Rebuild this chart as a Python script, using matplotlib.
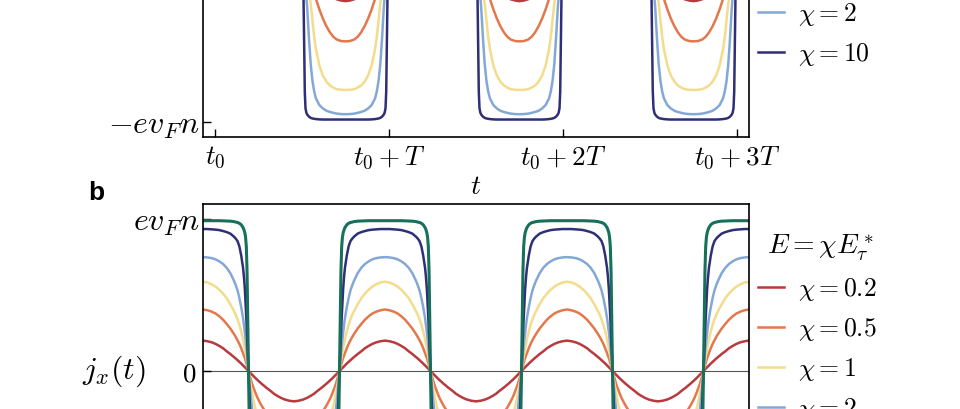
import matplotlib
matplotlib.use('Agg')
import matplotlib.pyplot as plt
import numpy as np

plt.rcParams['mathtext.fontset'] = 'cm'
plt.rcParams['font.family'] = ['DejaVu Sans']

# curve labels and colours (weak field -> strong field)
chi_labels = [r'$\chi = 0.2$', r'$\chi = 0.5$', r'$\chi = 1$', r'$\chi = 2$',
              r'$\chi = 10$', r'$\chi = 100$']
colors = ['#b83a3e', '#e3784c', '#f3dc8c', '#84a8d6', '#2f2f78', '#17705a']

# phase inside one half period (units of T), from zero crossing to the middle
phase = np.array([0, .004, .008, .012, .016, .02, .025, .03, .04, .05, .06,
                  .07, .08, .1, .12, .14, .16, .18, .2, .225, .25])

# panel a: values in a negative half period (units of e v_F n)
red_a = [0, -0.005, -0.01, -0.015, -0.02, -0.025, -0.031, -0.037, -0.049, -0.061,
         -0.073, -0.084, -0.095, -0.116, -0.135, -0.155, -0.17, -0.183, -0.193, -0.201, -0.205]
orange_a = [0, -0.008, -0.016, -0.024, -0.032, -0.04, -0.05, -0.06, -0.08, -0.1,
            -0.125, -0.155, -0.19, -0.26, -0.32, -0.37, -0.41, -0.44, -0.458, -0.468, -0.47]
yellow_a = [0, -0.015, -0.03, -0.045, -0.06, -0.075, -0.095, -0.115, -0.16, -0.22,
            -0.33, -0.44, -0.52, -0.63, -0.695, -0.735, -0.76, -0.775, -0.785, -0.789, -0.79]
blue_a = [0, -0.02, -0.045, -0.07, -0.1, -0.13, -0.18, -0.25, -0.45, -0.62,
          -0.73, -0.8, -0.845, -0.89, -0.912, -0.927, -0.935, -0.941, -0.946, -0.949, -0.95]
navy_a = [0, -0.03, -0.12, -0.45, -0.8, -0.91, -0.94, -0.952, -0.966, -0.974,
          -0.978, -0.98, -0.982, -0.984, -0.985, -0.985, -0.985, -0.985, -0.985, -0.985, -0.985]

# panel b: values in a positive half period
red_b = [0, 0.005, 0.01, 0.015, 0.02, 0.025, 0.031, 0.037, 0.049, 0.06, 0.071,
         0.082, 0.092, 0.112, 0.13, 0.15, 0.165, 0.178, 0.188, 0.196, 0.2]
orange_b = [0, 0.018, 0.036, 0.053, 0.07, 0.085, 0.102, 0.118, 0.15, 0.178, 0.202,
            0.224, 0.244, 0.28, 0.31, 0.338, 0.36, 0.378, 0.39, 0.4, 0.405]
yellow_b = [0, 0.032, 0.064, 0.095, 0.124, 0.15, 0.18, 0.21, 0.26, 0.305, 0.34,
            0.37, 0.395, 0.44, 0.48, 0.51, 0.535, 0.555, 0.57, 0.583, 0.588]
blue_b = [0, 0.055, 0.11, 0.165, 0.21, 0.255, 0.305, 0.35, 0.42, 0.48, 0.53,
          0.565, 0.595, 0.645, 0.68, 0.705, 0.722, 0.735, 0.743, 0.748, 0.75]
navy_b = [0, 0.12, 0.24, 0.35, 0.45, 0.54, 0.62, 0.68, 0.76, 0.82, 0.855,
          0.872, 0.885, 0.905, 0.915, 0.922, 0.928, 0.931, 0.933, 0.935, 0.935]
green_b = [0, 0.32, 0.66, 0.82, 0.88, 0.91, 0.93, 0.945, 0.963, 0.973, 0.978,
           0.981, 0.984, 0.987, 0.988, 0.989, 0.99, 0.99, 0.99, 0.99, 0.99]

curves_a = [red_a, orange_a, yellow_a, blue_a, navy_a]
curves_b = [red_b, orange_b, yellow_b, blue_b, navy_b, green_b]

xtick_pos = [0, 1, 2, 3]
xtick_labels = [r'$t_0$', r'$t_0 + T$', r'$t_0 + 2T$', r'$t_0 + 3T$']
ytick_pos = [-1, 0, 1]
ytick_labels = [r'$-ev_Fn$', r'$0$', r'$ev_Fn$']

FS_X = 19.5     # time tick labels
FS_Y = 23       # current tick labels / axis label
FS_LEG = 18.5
W, H = 960, 409


def periodic(half, start, n_halves, first_sign):
    # mirror the quarter period, then repeat with alternating sign
    half = np.asarray(half)
    d = np.concatenate([phase, 0.5 - phase[::-1][1:]])
    v = np.concatenate([half, half[::-1][1:]])
    ts, vs = [], []
    for k in range(n_halves):
        ts.append(start + 0.5 * k + d)
        vs.append(first_sign * (-1) ** k * v)
    return np.concatenate(ts), np.concatenate(vs)


def style(ax):
    ax.set_ylim(-1.1, 1.1)
    ax.tick_params(direction='in', length=6, width=1.0)
    ax.tick_params(axis='x', pad=5, labelsize=FS_X)
    ax.tick_params(axis='y', pad=2, labelsize=FS_Y)
    for s in ax.spines.values():
        s.set_linewidth(1.2)
    ax.set_xticks(xtick_pos)
    ax.set_xticklabels(xtick_labels)
    ax.set_yticks(ytick_pos)
    ax.set_yticklabels(ytick_labels)
    # the plain zero is set smaller than the e v_F n labels
    zero = ax.get_yticklabels()[1]
    zero.set_fontsize(FS_X)
    ax.yaxis.get_major_ticks()[1].set_pad(5)


def add_legend(ax, y):
    ax.legend(loc='upper left', bbox_to_anchor=(1.0165, y), frameon=False,
              fontsize=FS_LEG, title=r'$E = \chi E^*_\tau$', title_fontsize=20,
              handlelength=1.0, handletextpad=0.55, labelspacing=0.5,
              borderpad=0, borderaxespad=0)


fig = plt.figure(figsize=(W / 100, H / 100), dpi=100)

# panel a (top is cut off in the reference)
ax_a = fig.add_axes([203 / W, (H - 137) / H, 546 / W, 334 / H])
for vals, c, lab in zip(curves_a, colors, chi_labels):
    t, v = periodic(vals, 0.0, 7, -1)
    ax_a.plot(t, v, color=c, lw=1.8, label=lab)
ax_a.set_xlim(-0.069, 3.069)
style(ax_a)
ax_a.set_xlabel(r'$t$', fontsize=20, labelpad=1)
add_legend(ax_a, 0.896)

# panel b (bottom is cut off in the reference)
ax_b = fig.add_axes([203 / W, (H - 538) / H, 546 / W, 334 / H])
ax_b.axhline(0, color='#555555', lw=0.8, zorder=0)
for vals, c, lab in zip(curves_b, colors, chi_labels):
    t, v = periodic(vals, -0.25, 7, 1)
    lw = 2.2 if c == colors[-1] else 1.8
    ax_b.plot(t, v, color=c, lw=lw, label=lab)
ax_b.set_xlim(0, 3)
style(ax_b)
ax_b.set_ylabel(r'$j_x(t)$', rotation=0, fontsize=FS_Y, ha='right', va='center')
ax_b.yaxis.set_label_coords(-0.106, 0.5)
add_legend(ax_b, 0.916)

fig.text(88 / W, 1 - 200 / H, 'b', fontsize=19, fontweight='bold',
         family=['Liberation Sans', 'DejaVu Sans'], va='baseline')

fig.savefig('out.png', dpi=100)
